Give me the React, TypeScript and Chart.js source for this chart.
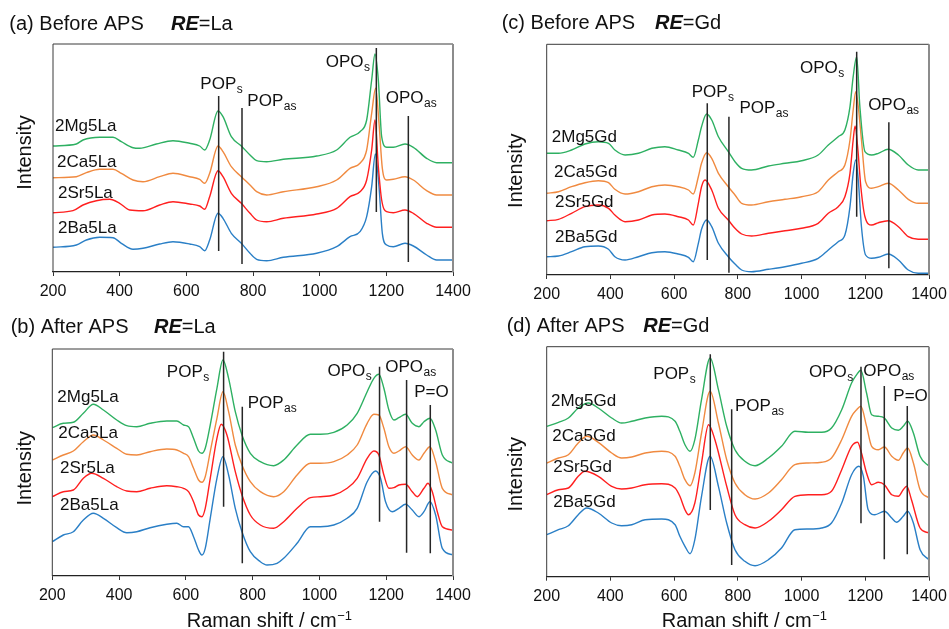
import React, { useEffect, useRef } from 'react';
import { Chart, registerables } from 'chart.js';

Chart.register(...registerables);

type Pt = [number, number];

// ---------- common ----------
const X_MIN = 200;
const X_MAX = 1400;
const X_STEP = 200;
const NAMES_LA = ['2Mg5La', '2Ca5La', '2Sr5La', '2Ba5La'];
const NAMES_GD = ['2Mg5Gd', '2Ca5Gd', '2Sr5Gd', '2Ba5Gd'];
const BANDS_BEFORE_MAIN = ['POP', 'POP', 'OPO', 'OPO'];
const BANDS_BEFORE_SUB = ['s', 'as', 's', 'as'];
const BANDS_AFTER_MAIN = ['POP', 'POP', 'OPO', 'OPO', 'P=O'];
const BANDS_AFTER_SUB = ['s', 'as', 's', 'as', ''];

// ---------- (a) Before APS, RE = La ----------
const aMg: Pt[] = [[200,126],[270,128],[290,132],[340,134.7],[380,134.7],[405,130.3],[440,124.3],[460,123.7],[510,128],[560,131.3],[610,128.7],[640,126],[655,122],[670,132],[695,161],[710,155.3],[735,135.3],[765,126],[791,117],[811,111.3],[841,110.3],[891,112.7],[991,116],[1051,122],[1091,134.7],[1121,140.3],[1141,152],[1156,192],[1166,218],[1176,192],[1186,135.3],[1201,124.7],[1221,124.7],[1256,128],[1281,124.7],[1321,113.7],[1351,109.3],[1400,109.3]];
const aCa: Pt[] = [[200,94.3],[270,95.3],[300,99.3],[340,102.7],[380,102.7],[405,98.7],[440,92],[470,90.3],[520,95.3],[560,98.7],[610,95.3],[640,92.7],[655,88.7],[670,98.7],[695,126],[710,120.3],[735,105.3],[765,95.3],[791,87],[811,80.3],[841,77],[891,80.3],[991,85.3],[1051,92],[1091,103.7],[1121,108.7],[1141,122],[1156,158.7],[1168,183.7],[1178,148.7],[1188,103.7],[1201,92],[1221,92.7],[1256,95.3],[1281,92],[1321,81.3],[1351,77],[1400,77]];
const aSr: Pt[] = [[200,59.3],[260,61.3],[290,67],[330,71.3],[370,72.7],[400,68.7],[430,62],[470,61.3],[520,67],[560,70.3],[610,68],[640,66],[655,62.7],[670,75.3],[695,101.3],[710,95.3],[735,78.7],[765,68.7],[791,58.7],[811,52],[841,50.3],[891,53.7],[991,58],[1051,63.7],[1091,75.3],[1121,80.3],[1141,92],[1156,122],[1166,152],[1176,105.3],[1186,72],[1201,60.3],[1221,59.3],[1256,62],[1281,58.7],[1321,48.7],[1351,44.7],[1400,44.7]];
const aBa: Pt[] = [[200,24.7],[270,27],[300,32],[340,34.7],[380,34.3],[405,28.7],[440,22.7],[470,23.7],[520,28],[560,30.3],[610,28],[640,25.3],[655,21.3],[670,32],[695,58.7],[710,53.7],[735,38.7],[765,28.7],[791,18.7],[811,12.7],[841,11.3],[891,14.7],[991,18.7],[1051,25.3],[1091,35.3],[1121,40.3],[1141,55.3],[1156,85.3],[1167,118],[1178,85.3],[1188,38.7],[1201,27],[1221,25.3],[1256,28.7],[1281,26],[1321,17],[1351,12],[1400,12]];
const aMarkX = [697, 767, 1170, 1266];
const aMarkLow = [21, 8, 60, 10];
const aMarkHigh = [176, 164, 224, 156];

// ---------- (b) After APS, RE = La ----------
const bMg: Pt[] = [[200,148.3],[233,152.7],[263,153.7],[293,162.7],[323,171.7],[353,166],[393,156],[423,150.3],[453,149.3],[493,152.7],[543,155],[573,155],[593,151],[608,149.3],[623,137.7],[638,125],[648,122.7],[658,127.7],[673,151],[693,187.7],[711,216],[728,197.7],[748,164.3],[768,141],[793,122.7],[823,114.3],[863,110.3],[893,116],[933,131],[973,141.7],[1003,141.7],[1043,143.7],[1083,151],[1113,162.7],[1143,184.3],[1163,197.7],[1178,201.7],[1193,187.7],[1208,166],[1223,156],[1238,158.3],[1258,161.7],[1278,152.7],[1298,149.3],[1313,154.3],[1331,157.7],[1348,146],[1368,121],[1400,112.7]];
const bCa: Pt[] = [[200,116],[233,121],[263,125],[293,134.3],[323,141],[353,136],[393,127.7],[423,121.7],[453,121],[493,124.3],[543,127],[573,126],[593,122.7],[608,119.3],[623,107.7],[638,96],[648,93.7],[658,99.3],[673,124.3],[693,157.7],[711,184.3],[728,164.3],[748,131],[768,111],[793,94.3],[823,84.3],[863,79.3],[893,84.3],[933,101],[973,112.7],[1003,112.7],[1043,114.3],[1083,121],[1113,131],[1143,152.7],[1163,161.7],[1178,161],[1193,147.7],[1208,129.3],[1223,122.7],[1238,125],[1258,129.3],[1278,121],[1298,116],[1313,122.7],[1331,129.3],[1348,114.3],[1368,87.7],[1400,81]];
const bSr: Pt[] = [[200,79.3],[233,84.3],[263,86],[293,97.7],[318,102.7],[353,97.7],[393,89.3],[423,85],[453,84.3],[493,87.7],[543,90.3],[573,89.3],[593,87.7],[608,84.3],[623,74.3],[638,61],[648,59.3],[658,67.7],[673,97.7],[693,137.7],[706,151.7],[723,141],[748,104.3],[768,81],[793,61],[823,51],[863,47.7],[893,54.3],[933,67.7],[973,78.3],[1003,79.3],[1043,81],[1083,87.7],[1113,97.7],[1143,117.7],[1163,125],[1178,121],[1193,101],[1208,87.7],[1223,88.3],[1238,91],[1258,91.7],[1278,84.3],[1293,79.3],[1313,87.7],[1325,92.7],[1338,84.3],[1353,64.3],[1368,49.3],[1400,46]];
const bBa: Pt[] = [[200,34.3],[233,41],[263,44.3],[293,56],[323,62.7],[353,57.7],[393,48.3],[423,43.3],[453,44.3],[493,48.3],[543,51.7],[573,52.7],[593,49.3],[608,49.3],[623,39.3],[638,26],[648,21],[658,27.7],[673,57.7],[693,97.7],[711,119.3],[728,101],[748,67.7],[768,44.3],[793,24.3],[823,14.3],[843,11],[873,12.7],[893,17.7],[933,32.7],[973,49.3],[1003,49.3],[1043,51],[1083,57.7],[1113,67.7],[1143,94.3],[1168,105],[1183,97.7],[1198,74.3],[1218,64.3],[1238,67.7],[1258,71.7],[1278,66],[1298,59.3],[1313,64.3],[1331,74.3],[1348,61],[1368,27.7],[1400,21]];
const bMarkX = [713, 769, 1180, 1261, 1332];
const bMarkLow = [69.3, 12.7, 54.3, 23.3, 22.7];
const bMarkHigh = [224.3, 169.3, 209.3, 196, 171];

// ---------- (c) Before APS, RE = Gd ----------
const cMg: Pt[] = [[200,121.7],[237,121.7],[278,125],[320,131],[362,133.3],[394,131.7],[414,125],[446,120],[488,121.7],[530,126.7],[571,128.3],[613,125],[645,121.7],[660,117.7],[676,135],[686,148.3],[702,161],[718,155],[739,138.3],[770,123.3],[791,113.3],[812,106.7],[843,105],[896,109],[948,111.7],[1000,114.3],[1052,120],[1084,130],[1115,138.3],[1136,145],[1152,168.3],[1162,198.3],[1173,218.3],[1183,168.3],[1199,123.3],[1220,120],[1241,121.7],[1272,125.7],[1304,120],[1335,110],[1366,105],[1400,105]];
const cCa: Pt[] = [[200,81.7],[237,83.3],[278,88.3],[320,92.3],[362,94.3],[394,92.3],[414,85.7],[446,81],[488,83.3],[530,88.3],[571,90],[613,88.3],[645,85],[660,81],[676,98.3],[686,111.7],[702,122.3],[718,116.7],[739,101.7],[770,88.3],[791,80],[812,71.7],[843,70],[896,73.3],[948,75.7],[1000,78.3],[1052,83.3],[1084,95],[1115,103.3],[1136,110],[1152,135],[1162,165],[1170,183.3],[1178,168.3],[1188,135],[1201,93.3],[1220,86.7],[1241,88.3],[1272,91.7],[1304,85],[1335,75.7],[1366,71.7],[1400,71.7]];
const cSr: Pt[] = [[200,54.3],[237,55.7],[278,61.7],[320,68.3],[362,70],[394,66.7],[414,60],[446,53.3],[488,55],[530,60],[571,61],[613,58.3],[645,55],[660,50],[676,71.7],[686,88.3],[697,95],[718,85],[739,66.7],[770,55],[791,46.7],[812,41],[843,39],[896,41.7],[948,44.3],[1000,46.7],[1052,51.7],[1084,61.7],[1115,68.3],[1136,78.3],[1152,101.7],[1162,135],[1168,149],[1176,128.3],[1186,88.3],[1199,58.3],[1220,50],[1241,52.3],[1272,54.3],[1304,48.3],[1335,38.3],[1366,35.7],[1400,35.7]];
const cBa: Pt[] = [[200,18.3],[237,19],[278,23.3],[320,28.3],[362,29],[394,25.7],[414,18.3],[446,15],[488,18.3],[530,22.3],[571,23.3],[613,21],[645,17.7],[660,13.3],[676,31.7],[686,45.7],[702,55],[718,48.3],[739,31.7],[770,18.3],[791,11],[812,5],[843,3.3],[896,5.7],[948,8.3],[1000,11.7],[1052,16.7],[1084,25],[1115,33.3],[1136,40],[1152,68.3],[1162,101.7],[1170,115],[1178,95],[1188,48.3],[1201,20],[1220,16.7],[1241,17.7],[1272,21],[1304,15],[1335,5],[1366,1.7],[1400,1.7]];
const cMarkX = [704, 772, 1173, 1274];
const cMarkLow = [15, 2.3, 58.3, 6.7];
const cMarkHigh = [171.7, 158.3, 223.3, 152.7];

// ---------- (d) After APS, RE = Gd ----------
const dMg: Pt[] = [[200,150.3],[237,154.4],[268,158.7],[299,168.7],[331,173.7],[362,168.7],[404,158.7],[435,153.7],[467,155.4],[509,158.7],[561,160.4],[603,155.4],[618,145.4],[634,132],[650,125.4],[665,137],[686,177],[713,218.7],[739,187],[765,150.4],[791,127],[822,115.4],[854,111],[896,118.7],[937,130.4],[979,145.4],[1021,144.4],[1063,144.4],[1094,148.7],[1126,167],[1157,193.7],[1173,202],[1186,206.4],[1204,183.7],[1220,162],[1241,160.4],[1260,158.7],[1283,148.7],[1304,146.4],[1319,150.4],[1333,155.4],[1351,143.7],[1372,120.4],[1400,110.4]];
const dCa: Pt[] = [[200,113.7],[237,118.7],[268,122],[299,133.7],[326,140.4],[362,134.4],[404,123.7],[435,118.7],[467,119.7],[509,123.7],[561,125.4],[603,120.4],[618,110.4],[634,97],[650,91],[665,103.7],[686,143.7],[713,185.4],[739,153.7],[765,117],[791,93.7],[822,82],[854,77.7],[896,83.7],[937,97],[979,112],[1021,113.7],[1063,114.4],[1094,118.7],[1126,137],[1157,160.4],[1173,167],[1186,170.4],[1204,150.4],[1220,130.4],[1241,127],[1260,129.7],[1283,120.4],[1304,116.4],[1319,123.7],[1333,128.7],[1351,113.7],[1372,87],[1400,78.7]];
const dSr: Pt[] = [[200,82],[237,87],[268,88.7],[299,100.4],[320,105.4],[362,100.4],[404,90.4],[435,87.7],[467,88.7],[509,92],[561,93],[603,88.7],[618,80.4],[634,67],[645,62],[665,73.7],[686,113.7],[708,152],[728,137],[765,90.4],[791,62],[822,52],[854,48.7],[896,55.4],[937,67],[979,80.4],[1021,82],[1063,82],[1094,85.4],[1126,107],[1157,130.4],[1176,134.4],[1188,123.7],[1204,103.7],[1220,92],[1241,94.4],[1260,92],[1283,82],[1304,80.4],[1319,87],[1330,90.4],[1345,77],[1372,48.7],[1400,43.7]];
const dBa: Pt[] = [[200,42],[237,47],[268,51],[299,62],[326,68.7],[362,63.7],[404,53.7],[435,51],[467,52],[509,57],[561,57.7],[603,52],[618,40.4],[634,30.4],[650,23],[665,37],[686,80.4],[713,120.4],[739,90.4],[765,53.7],[791,27],[822,15.4],[854,11],[896,17],[937,28.7],[979,47],[1021,47.7],[1063,48.7],[1094,53.7],[1126,73.7],[1157,102],[1180,110.4],[1194,100.4],[1209,67],[1230,62],[1260,65.4],[1283,58.7],[1298,54.4],[1319,60.4],[1333,65.4],[1351,53.7],[1372,27],[1400,17]];
const dMarkX = [713.5, 780.6, 1186.5, 1259.7, 1331.8];
const dMarkLow = [66.7, 11.7, 53.4, 17.4, 22.4];
const dMarkHigh = [222.4, 167.4, 210, 190.7, 170.7];

// ---------- styles / layout ----------
const FONT = '"Liberation Sans", Arial, Helvetica, sans-serif';
const COLORS = ['#2eb062', '#f08a40', '#ff1f1f', '#2a7fc6'];
const MARK_COLOR = '#262626';

interface PanelCfg {
  key: string;
  left: number; top: number; w: number; h: number;
  pad: { left: number; top: number; right: number; bottom: number };
  axisH: number;
  yMax: number;
  series: Pt[][];
  names: string[];
  nameX: number[]; nameY: number[];
  markX: number[]; markLow: number[]; markHigh: number[];
  bandMain: string[]; bandSub: string[];
  bandX: number[]; bandY: number[];
  title: string; re: string;
  titleDx: number; titleDy: number; reDx: number;
  yTitleDx: number; yTitleDy: number;
  xTitle: boolean; xTitleX: number; xTitleY: number;
}

const PANELS: PanelCfg[] = [
  {
    key: 'a', left: 0, top: 0, w: 472, h: 306,
    pad: { left: 53, top: 44, right: 19, bottom: 4 }, axisH: 30, yMax: 228,
    series: [aMg, aCa, aSr, aBa], names: NAMES_LA,
    nameX: [206, 212, 215, 215], nameY: [141, 105, 74, 39],
    markX: aMarkX, markLow: aMarkLow, markHigh: aMarkHigh,
    bandMain: BANDS_BEFORE_MAIN, bandSub: BANDS_BEFORE_SUB,
    bandX: [642, 783, 1018, 1198], bandY: [183, 166, 205, 169],
    title: '(a) Before APS', re: '=La', titleDx: -43.7, titleDy: -14, reDx: 118,
    yTitleDx: -28, yTitleDy: -5.5,
    xTitle: false, xTitleX: 0, xTitleY: 0,
  },
  {
    key: 'b', left: 0, top: 306, w: 472, h: 323,
    pad: { left: 52.3, top: 43, right: 19, bottom: 23 }, axisH: 30, yMax: 227,
    series: [bMg, bCa, bSr, bBa], names: NAMES_LA,
    nameX: [215, 218, 223, 223], nameY: [174.3, 138.3, 103.3, 66],
    markX: bMarkX, markLow: bMarkLow, markHigh: bMarkHigh,
    bandMain: BANDS_AFTER_MAIN, bandSub: BANDS_AFTER_SUB,
    bandX: [543, 785, 1024, 1197, 1284], bandY: [199.3, 167.7, 200, 204.3, 179.3],
    title: '(b) After APS', re: '=La', titleDx: -41.6, titleDy: -16.3, reDx: 101.7,
    yTitleDx: -27.3, yTitleDy: 5.8,
    xTitle: true, xTitleX: 186.7, xTitleY: 321,
  },
  {
    key: 'c', left: 474, top: 0, w: 475, h: 306,
    pad: { left: 72.7, top: 44.3, right: 20, bottom: 4 }, axisH: 27, yMax: 230.7,
    series: [cMg, cCa, cSr, cBa], names: NAMES_GD,
    nameX: [216, 223, 226, 226], nameY: [133.3, 97.7, 67.7, 32.7],
    markX: cMarkX, markLow: cMarkLow, markHigh: cMarkHigh,
    bandMain: BANDS_BEFORE_MAIN, bandSub: BANDS_BEFORE_SUB,
    bandX: [655, 805, 995, 1209], bandY: [178.3, 162.3, 202.3, 165],
    title: '(c) Before APS', re: '=Gd', titleDx: -45, titleDy: -15, reDx: 108.3,
    yTitleDx: -30, yTitleDy: 11,
    xTitle: false, xTitleX: 0, xTitleY: 0,
  },
  {
    key: 'd', left: 474, top: 306, w: 475, h: 323,
    pad: { left: 72.7, top: 40.7, right: 20, bottom: 22.3 }, axisH: 30, yMax: 230,
    series: [dMg, dCa, dSr, dBa], names: NAMES_GD,
    nameX: [213.5, 217.6, 220.7, 220.7], nameY: [171, 136, 105, 70],
    markX: dMarkX, markLow: dMarkLow, markHigh: dMarkHigh,
    bandMain: BANDS_AFTER_MAIN, bandSub: BANDS_AFTER_SUB,
    bandX: [534.6, 791, 1023, 1194, 1288], bandY: [197.4, 166, 199.4, 200.7, 176],
    title: '(d) After APS', re: '=Gd', titleDx: -40, titleDy: -15, reDx: 96.6,
    yTitleDx: -30, yTitleDy: 12.5,
    xTitle: true, xTitleX: 187.7, xTitleY: 321,
  },
];

function drawSubText(ctx: CanvasRenderingContext2D, x: number, y: number, main: string, sub: string) {
  ctx.font = `17px ${FONT}`;
  ctx.fillText(main, x, y);
  if (sub) {
    const w = ctx.measureText(main).width;
    ctx.font = `12px ${FONT}`;
    ctx.fillText(sub, x + w + 0.5, y + 4);
  }
}

function makeOverlay(p: PanelCfg) {
  return {
    id: 'overlay_' + p.key,
    afterDraw(chart: any) {
      const ctx: CanvasRenderingContext2D = chart.ctx;
      const ca = chart.chartArea;
      const xs = chart.scales.x;
      const ys = chart.scales.y;
      ctx.save();
      // frame (top, left, right)
      ctx.strokeStyle = '#3a3a3a';
      ctx.lineWidth = 1;
      ctx.beginPath();
      ctx.moveTo(ca.left, ca.bottom);
      ctx.lineTo(ca.left, ca.top);
      ctx.lineTo(ca.right, ca.top);
      ctx.stroke();
      ctx.strokeStyle = '#8c8c8c';
      ctx.lineWidth = 2;
      ctx.beginPath();
      ctx.moveTo(ca.right, ca.top);
      ctx.lineTo(ca.right, ca.bottom);
      ctx.stroke();

      ctx.fillStyle = '#111';
      ctx.textAlign = 'left';
      ctx.textBaseline = 'alphabetic';

      // panel title
      const tx = ca.left + p.titleDx;
      const ty = ca.top + p.titleDy;
      ctx.font = `20px ${FONT}`;
      ctx.fillText(p.title, tx, ty);
      const rx = ca.left + p.reDx;
      ctx.font = `italic bold 20px ${FONT}`;
      ctx.fillText('RE', rx, ty);
      const rw = ctx.measureText('RE').width;
      ctx.font = `20px ${FONT}`;
      ctx.fillText(p.re, rx + rw, ty);

      // series names
      ctx.font = `17px ${FONT}`;
      p.names.forEach((n, i) => {
        ctx.fillText(n, xs.getPixelForValue(p.nameX[i]), ys.getPixelForValue(p.nameY[i]));
      });

      // band labels
      p.bandMain.forEach((m, i) => {
        drawSubText(ctx, xs.getPixelForValue(p.bandX[i]), ys.getPixelForValue(p.bandY[i]), m, p.bandSub[i]);
      });

      // y title
      ctx.save();
      ctx.translate(ca.left + p.yTitleDx, (ca.top + ca.bottom) / 2 + p.yTitleDy);
      ctx.rotate(-Math.PI / 2);
      ctx.textAlign = 'center';
      ctx.textBaseline = 'middle';
      ctx.font = `20px ${FONT}`;
      ctx.fillText('Intensity', 0, 0);
      ctx.restore();

      // x title
      if (p.xTitle) {
        ctx.font = `20px ${FONT}`;
        const main = 'Raman shift / cm';
        ctx.fillText(main, p.xTitleX, p.xTitleY);
        const mw = ctx.measureText(main).width;
        ctx.font = `13px ${FONT}`;
        ctx.fillText('\u22121', p.xTitleX + mw + 0.5, p.xTitleY - 7);
      }
      ctx.restore();
    },
  };
}

function Panel({ p }: { p: PanelCfg }) {
  const ref = useRef<HTMLCanvasElement | null>(null);
  useEffect(() => {
    if (!ref.current) return;
    const datasets: any[] = [];
    p.markX.forEach((mx, i) => {
      datasets.push({
        label: `${p.bandMain[i]}${p.bandSub[i]}`,
        data: [{ x: mx, y: p.markLow[i] }, { x: mx, y: p.markHigh[i] }],
        borderColor: MARK_COLOR,
        borderWidth: 1.5,
        pointRadius: 0,
        order: 0,
      });
    });
    p.series.forEach((s, i) => {
      datasets.push({
        label: p.names[i],
        data: s.map(([x, y]) => ({ x, y })),
        borderColor: COLORS[i],
        borderWidth: 1.4,
        pointRadius: 0,
        cubicInterpolationMode: 'monotone',
        order: 1,
      });
    });
    const chart = new Chart(ref.current, {
      type: 'line',
      data: { datasets },
      options: {
        animation: false,
        responsive: false,
        maintainAspectRatio: false,
        events: [],
        layout: { padding: p.pad },
        plugins: {
          legend: { display: false },
          tooltip: { enabled: false },
          title: { display: false },
        },
        scales: {
          x: {
            type: 'linear',
            min: X_MIN,
            max: X_MAX,
            ticks: {
              stepSize: X_STEP,
              autoSkip: false,
              maxRotation: 0,
              padding: 0,
              color: '#111',
              font: { family: FONT, size: 16, lineHeight: 1.95 },
              callback: (v: any) => String(v),
            },
            grid: {
              display: true,
              drawOnChartArea: false,
              drawTicks: true,
              tickLength: 4,
              color: '#333',
              lineWidth: 1,
            },
            border: { display: true, color: '#222', width: 1.2 },
            afterFit: (scale: any) => {
              scale.height = p.axisH;
            },
          },
          y: { display: false, min: 0, max: p.yMax },
        },
      } as any,
      plugins: [makeOverlay(p)],
    });
    return () => chart.destroy();
  }, [p]);
  return (
    <canvas
      ref={ref}
      width={p.w}
      height={p.h}
      style={{ position: 'absolute', left: p.left, top: p.top, width: p.w, height: p.h, display: 'block' }}
    />
  );
}

export default function App() {
  return (
    <div style={{ position: 'absolute', left: 0, top: 0, width: 949, height: 629, background: '#fff', overflow: 'hidden' }}>
      {PANELS.map((p) => (
        <Panel key={p.key} p={p} />
      ))}
    </div>
  );
}
